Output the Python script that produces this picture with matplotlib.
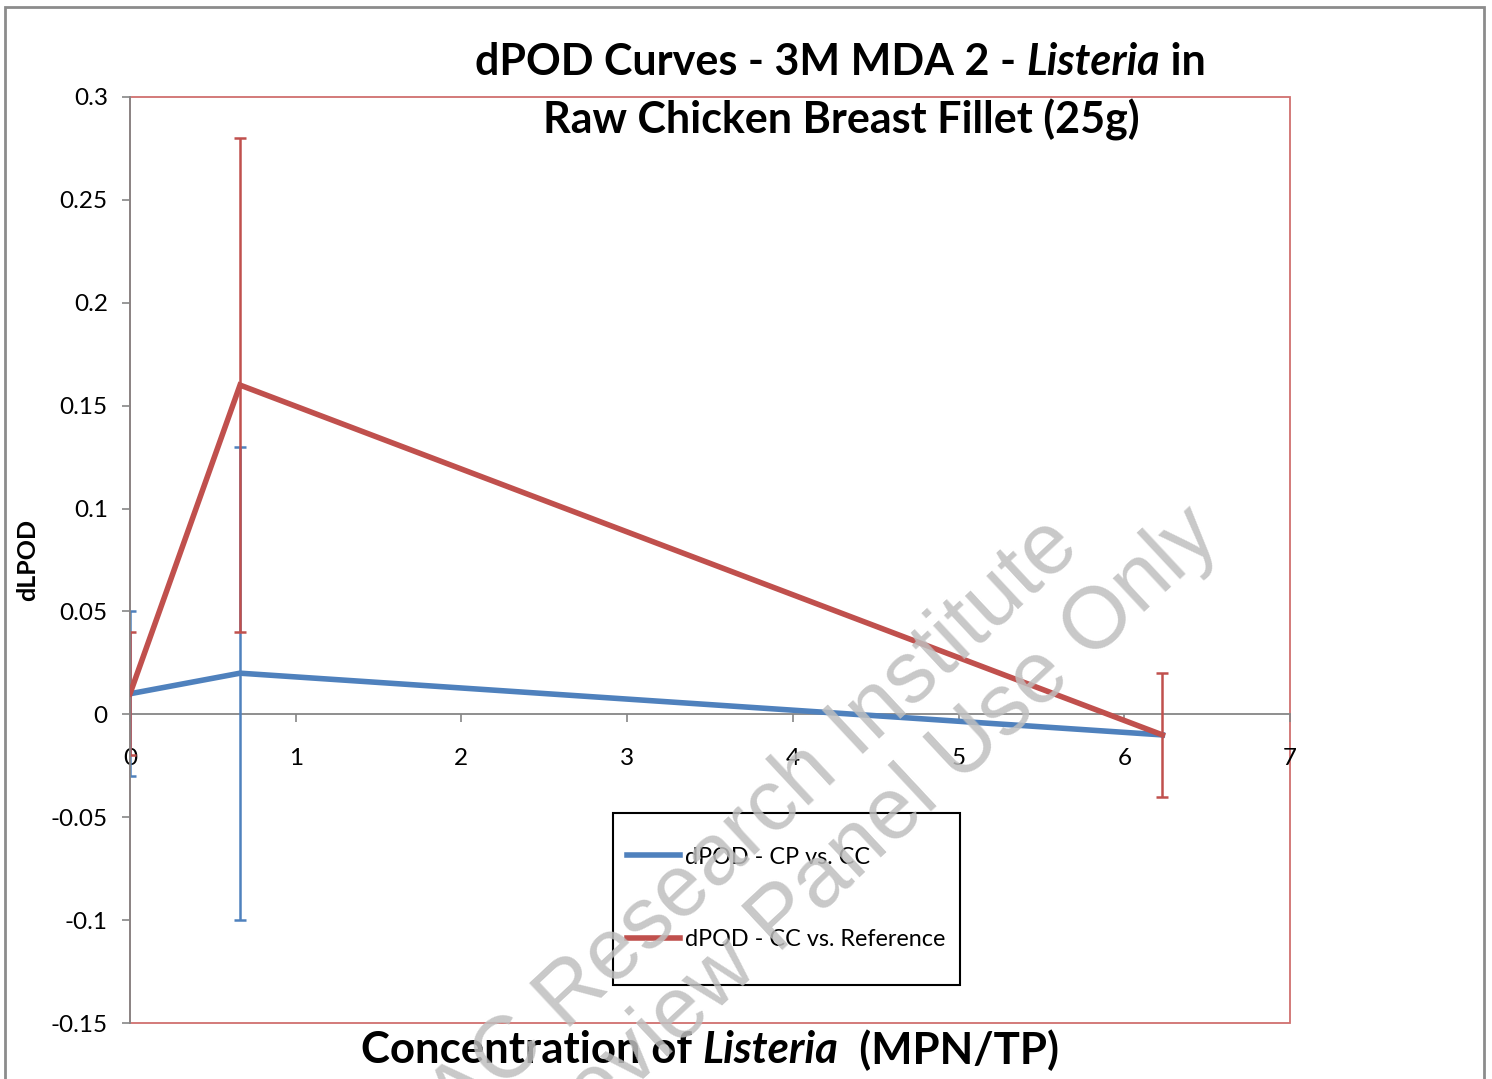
import numpy as np
import matplotlib
matplotlib.use('Agg')
import matplotlib.pyplot as plt
from matplotlib.patches import Rectangle
from matplotlib.ticker import FuncFormatter, MultipleLocator

plt.rcParams['font.family'] = ['Lato', 'DejaVu Sans']

# data
conc = [0.0, 0.664, 6.23]
cp_cc = [0.01, 0.02, -0.01]
cp_cc_lo = [-0.03, -0.10, np.nan]
cp_cc_hi = [0.05, 0.13, np.nan]
cc_ref = [0.01, 0.16, -0.01]
cc_ref_lo = [-0.02, 0.04, -0.04]
cc_ref_hi = [0.04, 0.28, 0.02]
labels = ['dPOD - CP vs. CC', 'dPOD - CC vs. Reference']

blue = '#4F81BD'
red = '#C0504D'
axis_gray = '#868686'

W, H = 1492, 1079
fig = plt.figure(figsize=(W / 100, H / 100), dpi=100)
ax = fig.add_axes([130 / W, 1 - 1023 / H, (1290 - 130) / W, (1023 - 97) / H])


def err(y, lo, hi):
    y = np.array(y)
    return [y - np.array(lo), np.array(hi) - y]


ax.errorbar(conc, cp_cc, yerr=err(cp_cc, cp_cc_lo, cp_cc_hi), fmt='none',
            ecolor=blue, elinewidth=1.8, capsize=4.5, capthick=1.8, zorder=2)
ax.errorbar(conc, cc_ref, yerr=err(cc_ref, cc_ref_lo, cc_ref_hi), fmt='none',
            ecolor=red, elinewidth=1.8, capsize=4.5, capthick=1.8, zorder=2)
l1, = ax.plot(conc, cp_cc, color=blue, lw=4, solid_joinstyle='miter', zorder=3, label=labels[0])
l2, = ax.plot(conc, cc_ref, color=red, lw=4, solid_joinstyle='miter', zorder=4, label=labels[1])

ax.set_xlim(0, 7)
ax.set_ylim(-0.15, 0.3)
ax.xaxis.set_major_locator(MultipleLocator(1))
ax.yaxis.set_major_locator(MultipleLocator(0.05))
ax.yaxis.set_major_formatter(FuncFormatter(lambda v, p: '%g' % round(v, 2)))

for s in ['top', 'right']:
    ax.spines[s].set_visible(False)
ax.spines['bottom'].set_position(('data', 0))
ax.spines['bottom'].set_color(axis_gray)
ax.spines['left'].set_color(axis_gray)
ax.spines['bottom'].set_linewidth(1.3)
ax.spines['left'].set_linewidth(1.3)
ax.spines['bottom'].set_zorder(1)
ax.tick_params(axis='both', direction='out', length=6, width=1.2, color=axis_gray,
               labelsize=17.5, labelcolor='black')
ax.tick_params(axis='x', pad=18)
ax.tick_params(axis='y', pad=10)

# red plot-area border
ax.add_patch(Rectangle((0, 0), 1, 1, transform=ax.transAxes, fill=False,
                       edgecolor='#D0706E', lw=1.3, clip_on=False, zorder=0.5))

# outer chart frame
fig.patches.append(Rectangle((5 / W, -0.05), (1484 - 5) / W, 1.05 - 7 / H,
                             transform=fig.transFigure, fill=False,
                             edgecolor='#8C8C8C', lw=2))


def rich_text(x, y, parts, **kw):
    renderer = fig.canvas.get_renderer()
    texts = [fig.text(0, y, s, fontstyle=st, va='center', **kw) for s, st in parts]
    widths = [t.get_window_extent(renderer).width for t in texts]
    x0 = x * W - sum(widths) / 2
    for t, w in zip(texts, widths):
        t.set_x(x0 / W)
        x0 += w


rich_text(840 / W, 1 - 62 / H,
          [('dPOD Curves - 3M MDA 2 - ', 'normal'), ('Listeria', 'italic'), (' in', 'normal')],
          fontsize=31, fontweight='bold')
rich_text(841 / W, 1 - 120 / H,
          [('Raw Chicken Breast Fillet (25g)', 'normal')],
          fontsize=31, fontweight='bold')
rich_text(710 / W, 1 - 1050 / H,
          [('Concentration of ', 'normal'), ('Listeria', 'italic'), ('  (MPN/TP)', 'normal')],
          fontsize=31.5, fontweight='bold')

fig.text(28 / W, 1 - 560 / H, 'dLPOD', rotation=90, ha='center', va='center',
         fontsize=18, fontweight='bold')

# legend
fig.legend(handles=[l1, l2], loc='center left', bbox_to_anchor=(627 / W, 1 - 898.5 / H),
           frameon=False, fontsize=16.8, handlelength=2.27, handletextpad=0.21,
           labelspacing=2.65, borderpad=0, borderaxespad=0)
fig.patches.append(Rectangle((613 / W, 1 - 985 / H), (960 - 613) / W, (985 - 813) / H,
                             transform=fig.transFigure, fill=False,
                             edgecolor='black', lw=1.5))

# watermark
fig.text(739 / W, 1 - 899 / H, 'AOAC Research Institute\nExpert Review Panel Use Only',
         rotation=43, rotation_mode='anchor', ha='center', va='center',
         multialignment='center', fontsize=63, color='#BFBFBF', alpha=0.85,
         family='Liberation Sans', linespacing=1.1, zorder=10)

fig.savefig('out.png', dpi=100)
